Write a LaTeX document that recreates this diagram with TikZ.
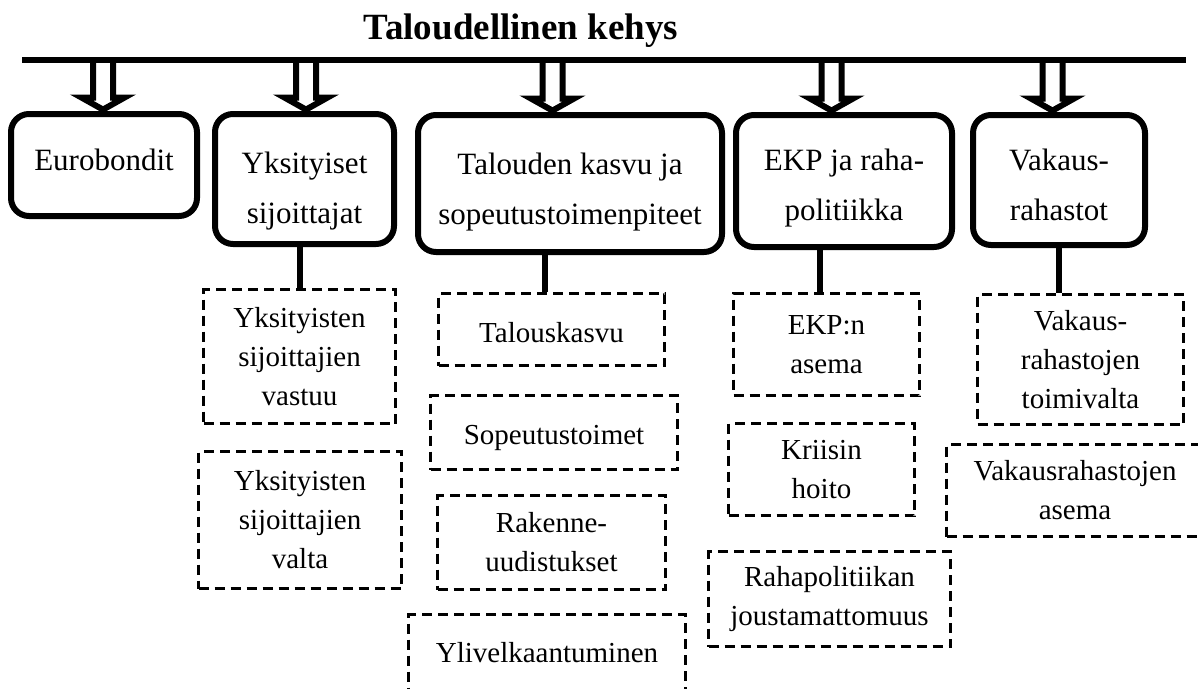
\documentclass[tikz,border=0pt]{standalone}
\usepackage{fontspec}
\setmainfont{Liberation Serif}
\usetikzlibrary{calc}
\newcommand\hollowarrow[1]{%
  \draw[hollow] ($(#1)+(-10,-49.6)$) -- ($(#1)+(-10,-12.1)$) -- ($(#1)+(-21.6,-12.1)$)
    -- (#1) -- ($(#1)+(21.6,-12.1)$) -- ($(#1)+(10,-12.1)$) -- ($(#1)+(10,-49.6)$);}
\begin{document}
\begin{tikzpicture}[x=1pt,y=-1pt,
  mainbox/.style={draw, line width=6pt, rounded corners=18pt, align=center,
    font=\fontsize{31}{50}\selectfont, inner sep=0pt},
  subbox/.style={draw, line width=3pt, dash pattern=on 10pt off 6pt, align=center,
    font=\fontsize{29}{39}\selectfont, inner sep=0pt},
  link/.style={line width=6pt},
  bar/.style={line width=6pt},
  hollow/.style={line width=6pt, line join=miter, miter limit=10}]
\useasboundingbox (0,0) rectangle (1198,688);

% title and bar
\node[anchor=base, font=\fontsize{37}{40}\selectfont\bfseries] (title) at (521,39) {Taloudellinen kehys};
\coordinate (barL) at (22,60);
\coordinate (barR) at (1186,60);
\draw[bar] (barL) -- (barR);

% main boxes
\node[mainbox, minimum width=186pt, minimum height=102pt] (b1) at (104,165)
  {\rule[-11pt]{0pt}{11pt}Eurobondit};
\node[mainbox, minimum width=179pt, minimum height=130pt] (b2) at (304.5,179)
  {\rule{0pt}{46pt}Yksityiset\\sijoittajat};
\node[mainbox, minimum width=304pt, minimum height=137pt] (b3) at (570,183.5)
  {\rule{0pt}{38pt}Talouden kasvu ja\\sopeutustoimenpiteet};
\node[mainbox, minimum width=216pt, minimum height=132pt] (b4) at (844,181)
  {\rule{0pt}{36pt}EKP ja raha-\\politiikka};
\node[mainbox, minimum width=172pt, minimum height=130pt] (b5) at (1059,180)
  {\rule{0pt}{31pt}Vakaus-\\rahastot};

% arrows from the bar
\coordinate (t1) at ($(b1.north)+(-1,-1.4)$);
\coordinate (t2) at ($(b2.north)+(1.5,-1.4)$);
\coordinate (t3) at ($(b3.north)+(-17.5,-1.4)$);
\coordinate (t4) at ($(b4.north)+(-12.5,-1.4)$);
\coordinate (t5) at ($(b5.north)+(-6.5,-1.4)$);
\hollowarrow{t1}
\hollowarrow{t2}
\hollowarrow{t3}
\hollowarrow{t4}
\hollowarrow{t5}

% dashed boxes
\node[subbox, minimum width=192pt, minimum height=134pt] (d2a) at (299.5,356.5)
  {Yksityisten\\sijoittajien\\vastuu};
\node[subbox, minimum width=203pt, minimum height=137pt] (d2b) at (300,520)
  {Yksityisten\\sijoittajien\\valta};
\node[subbox, minimum width=226pt, minimum height=72pt] (d3a) at (551.5,329.5)
  {\rule{0pt}{27pt}Talouskasvu};
\node[subbox, minimum width=247pt, minimum height=74pt] (d3b) at (554,432.5)
  {\rule{0pt}{31pt}Sopeutustoimet};
\node[subbox, minimum width=228pt, minimum height=94pt] (d3c) at (551.5,542.5)
  {Rakenne-\\uudistukset};
\node[subbox, minimum width=277pt, minimum height=77pt] (d3d) at (547,653)
  {Ylivelkaantuminen};
\node[subbox, minimum width=186pt, minimum height=102pt] (d4a) at (826.5,344.5)
  {EKP:n\\asema};
\node[subbox, minimum width=186pt, minimum height=92pt] (d4b) at (821.5,469.5)
  {Kriisin\\hoito};
\node[subbox, minimum width=242pt, minimum height=95pt] (d4c) at (829.5,599)
  {Rahapolitiikan\\joustamattomuus};
\node[subbox, minimum width=206pt, minimum height=130pt] (d5a) at (1080.5,359.5)
  {Vakaus-\\rahastojen\\toimivalta};
\node[subbox, minimum width=257pt, minimum height=92pt] (d5b) at (1075,490.5)
  {Vakausrahastojen\\asema};

% connectors
\draw[link] ([xshift=-4.5pt]b2.south) -- ([xshift=-4.5pt]b2.south |- d2a.north);
\draw[link] ([xshift=-25pt]b3.south) -- ([xshift=-25pt]b3.south |- d3a.north);
\draw[link] ([xshift=-24pt]b4.south) -- ([xshift=-24pt]b4.south |- d4a.north);
\draw[link] (b5.south) -- (b5.south |- d5a.north);
\end{tikzpicture}
\end{document}
